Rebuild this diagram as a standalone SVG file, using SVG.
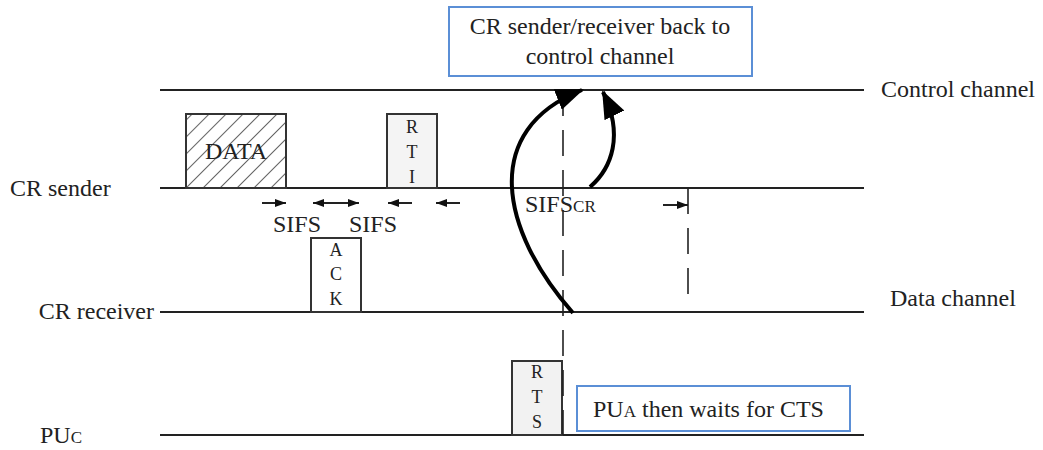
<svg xmlns="http://www.w3.org/2000/svg" width="1043" height="450" viewBox="0 0 1043 450">
  <style>
    text { font-family: "Liberation Serif", "Times New Roman", serif; fill: #222; }
    .lbl { font-size: 24px; }
    .frm { font-size: 18px; text-anchor: middle; }
    .sub { font-size: 17px; }
    .lane { stroke: #222; stroke-width: 2; }
    .frame { stroke: #333; stroke-width: 2; }
    .note { fill: #fff; stroke: #5b8fd6; stroke-width: 2; }
    .dash { stroke: #222; stroke-width: 1.6; stroke-dasharray: 26 14; fill: none; }
    .tick { stroke: #222; stroke-width: 2; fill: none; }
    .hop { stroke: #000; stroke-width: 4; fill: none; }
  </style>
  <defs>
    <pattern id="hatch" patternUnits="userSpaceOnUse" width="12" height="12" patternTransform="rotate(45)">
      <line x1="0" y1="0" x2="0" y2="12" stroke="#333" stroke-width="1.5"/>
    </pattern>
    <marker id="tip" markerUnits="userSpaceOnUse" markerWidth="11" markerHeight="8" refX="11" refY="4" orient="auto-start-reverse">
      <path d="M0,0 L11,4 L0,8 z" fill="#111"/>
    </marker>
    <marker id="bigtip" markerUnits="userSpaceOnUse" markerWidth="28" markerHeight="22" refX="26" refY="11" orient="auto">
      <path d="M0,0 L28,11 L0,22 z" fill="#000"/>
    </marker>
  </defs>

  <rect width="1043" height="450" fill="#fff"/>

  <!-- channel lanes -->
  <g id="lane-control">
    <line class="lane" x1="160" y1="90" x2="864" y2="90"/>
    <text class="lbl" x="881" y="97">Control channel</text>
  </g>
  <g id="lane-sender">
    <line class="lane" x1="160" y1="188" x2="864" y2="188"/>
    <text class="lbl" x="10" y="196">CR sender</text>
  </g>
  <g id="lane-receiver">
    <line class="lane" x1="160" y1="312" x2="864" y2="312"/>
    <text class="lbl" x="154" y="319" text-anchor="end">CR receiver</text>
    <text class="lbl" x="890" y="306">Data channel</text>
  </g>
  <g id="lane-pu">
    <line class="lane" x1="160" y1="435" x2="864" y2="435"/>
    <text class="lbl" x="40" y="443">PU<tspan class="sub">C</tspan></text>
  </g>

  <!-- frames -->
  <g id="frame-data">
    <rect x="186" y="114" width="100" height="74" fill="url(#hatch)" class="frame"/>
    <text class="lbl" x="236" y="159" text-anchor="middle">DATA</text>
  </g>
  <g id="frame-rti">
    <rect x="387" y="114" width="50" height="74" fill="#f4f4f4" class="frame"/>
    <text class="frm" x="412" y="133">R</text>
    <text class="frm" x="412" y="158">T</text>
    <text class="frm" x="412" y="183">I</text>
  </g>
  <g id="frame-ack">
    <rect x="311" y="238" width="50" height="74" fill="#fff" class="frame"/>
    <text class="frm" x="336" y="256">A</text>
    <text class="frm" x="336" y="280">C</text>
    <text class="frm" x="336" y="305">K</text>
  </g>
  <g id="frame-rts">
    <rect x="512" y="361" width="50" height="74" fill="#f2f2f2" class="frame"/>
    <text class="frm" x="537" y="378">R</text>
    <text class="frm" x="537" y="403">T</text>
    <text class="frm" x="537" y="428">S</text>
  </g>

  <!-- notes -->
  <g id="note-back">
    <rect class="note" x="449" y="7" width="303" height="69"/>
    <text class="lbl" x="600" y="34" text-anchor="middle">CR sender/receiver back to</text>
    <text class="lbl" x="600" y="64" text-anchor="middle">control channel</text>
  </g>
  <g id="note-wait">
    <rect class="note" x="577" y="386" width="273" height="45"/>
    <text class="lbl" x="593" y="417">PU<tspan class="sub">A</tspan> then waits for CTS</text>
  </g>

  <!-- interval labels -->
  <g id="intervals">
    <text class="lbl" x="297" y="232" text-anchor="middle">SIFS</text>
    <text class="lbl" x="373" y="232" text-anchor="middle">SIFS</text>
    <text class="lbl" x="525" y="212">SIFS<tspan class="sub">CR</tspan></text>
  </g>

  <!-- connectors -->
  <g id="connectors">
    <line class="dash" x1="563" y1="90" x2="563" y2="435"/>
    <line class="dash" x1="688" y1="188" x2="688" y2="300"/>
    <line class="tick" x1="262" y1="203" x2="286" y2="203" marker-end="url(#tip)"/>
    <line class="tick" x1="313" y1="203" x2="359" y2="203" marker-start="url(#tip)" marker-end="url(#tip)"/>
    <line class="tick" x1="412" y1="203" x2="388" y2="203" marker-end="url(#tip)"/>
    <line class="tick" x1="460" y1="203" x2="436" y2="203" marker-end="url(#tip)"/>
    <line class="tick" x1="663" y1="205" x2="688" y2="205" marker-end="url(#tip)"/>
    <path class="hop" d="M573,313 C500,230 480,130 582,90" marker-end="url(#bigtip)"/>
    <path class="hop" d="M590,187 C612,168 624,135 603,92" marker-end="url(#bigtip)"/>
  </g>
</svg>
